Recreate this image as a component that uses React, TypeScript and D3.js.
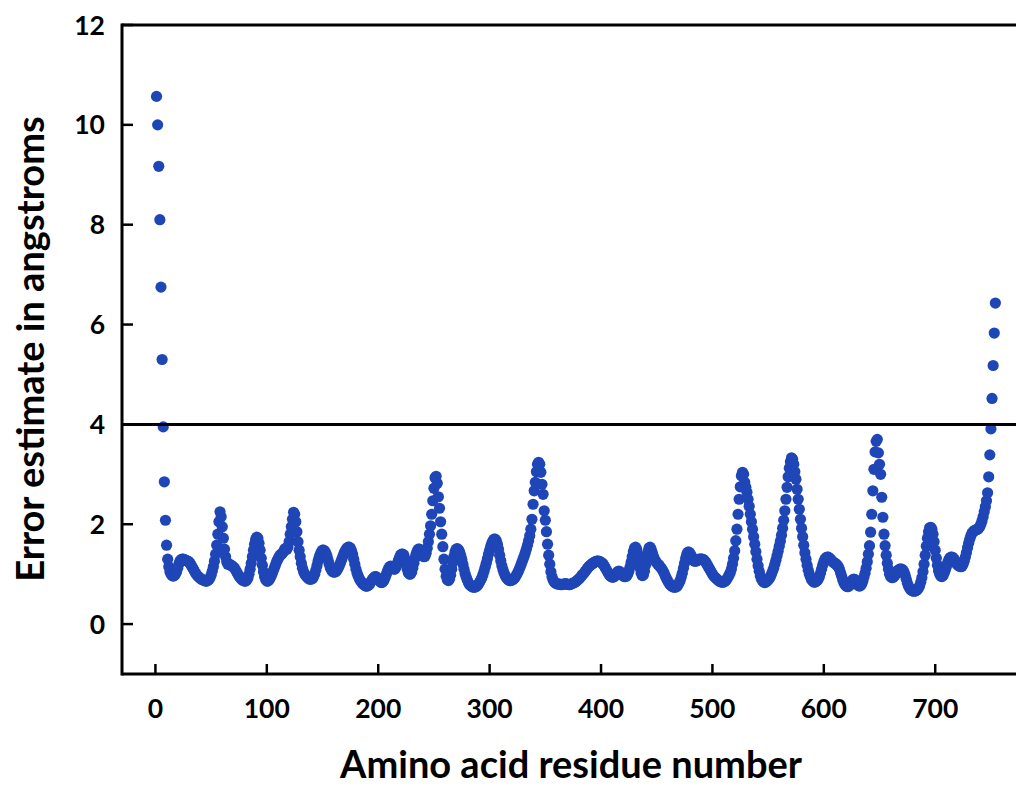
import React from "react";
import * as d3 from "d3";

// Error estimate (angstroms) per amino acid residue, starting at residue 1
const firstResidue = 1;
const errorValues: number[] = [
  10.57, 10.0, 9.17, 8.1, 6.75, 5.3, 3.95, 2.85, 2.08, 1.58,
  1.3, 1.15, 1.05, 1.0, 0.97, 0.96, 0.97, 1.0, 1.05, 1.12,
  1.2, 1.26, 1.29, 1.3, 1.3, 1.29, 1.28, 1.27, 1.26, 1.25,
  1.22, 1.18, 1.14, 1.1, 1.06, 1.02, 0.99, 0.96, 0.94, 0.92,
  0.9, 0.89, 0.88, 0.87, 0.86, 0.86, 0.87, 0.89, 0.93, 0.98,
  1.06, 1.15, 1.26, 1.4, 1.58, 1.8, 2.05, 2.25, 2.15, 1.95,
  1.72, 1.5, 1.35, 1.25, 1.2, 1.2, 1.19, 1.18, 1.16, 1.14,
  1.12, 1.08, 1.04, 1.0, 0.96, 0.93, 0.9, 0.88, 0.87, 0.86,
  0.86, 0.88, 0.92, 1.0, 1.1, 1.22, 1.35, 1.48, 1.6, 1.7,
  1.74, 1.72, 1.62, 1.48, 1.32, 1.18, 1.05, 0.95, 0.89, 0.86,
  0.86, 0.88, 0.92, 0.97, 1.02, 1.08, 1.14, 1.2, 1.26, 1.3,
  1.35, 1.38, 1.4, 1.42, 1.45, 1.5, 1.52, 1.5, 1.55, 1.65,
  1.8, 1.95, 2.1, 2.24, 2.2, 2.05, 1.85, 1.65, 1.48, 1.35,
  1.22, 1.12, 1.05, 1.0, 0.97, 0.94, 0.92, 0.9, 0.9, 0.9,
  0.91, 0.95, 1.0, 1.08, 1.17, 1.26, 1.34, 1.4, 1.45, 1.48,
  1.48, 1.46, 1.42, 1.36, 1.28, 1.2, 1.13, 1.08, 1.05, 1.04,
  1.04, 1.05, 1.08, 1.12, 1.17, 1.22, 1.28, 1.34, 1.4, 1.45,
  1.49, 1.52, 1.54, 1.54, 1.52, 1.47, 1.4, 1.3, 1.2, 1.1,
  1.02, 0.96, 0.91, 0.87, 0.84, 0.81, 0.79, 0.77, 0.76, 0.76,
  0.77, 0.79, 0.83, 0.87, 0.9, 0.93, 0.95, 0.95, 0.93, 0.9,
  0.87, 0.84, 0.83, 0.84, 0.87, 0.92, 0.98, 1.04, 1.1, 1.14,
  1.16, 1.15, 1.12, 1.1, 1.1, 1.14, 1.2, 1.27, 1.33, 1.38,
  1.4, 1.4, 1.38, 1.3, 1.2, 1.1, 1.03, 1.0, 1.0, 1.04,
  1.12, 1.22, 1.32, 1.4, 1.46, 1.5, 1.5, 1.48, 1.42, 1.37,
  1.35, 1.36, 1.42, 1.52, 1.65, 1.8, 1.97, 2.2, 2.47, 2.72,
  2.93, 2.96, 2.82, 2.55, 2.32, 2.05, 1.8, 1.55, 1.3, 1.1,
  0.96, 0.89, 0.87, 0.9, 0.98, 1.1, 1.24, 1.36, 1.45, 1.5,
  1.51, 1.49, 1.45, 1.38, 1.3, 1.2, 1.1, 1.01, 0.94, 0.88,
  0.83, 0.79, 0.77, 0.75, 0.74, 0.74, 0.74, 0.75, 0.77, 0.8,
  0.84, 0.88, 0.93, 0.99, 1.06, 1.14, 1.22, 1.31, 1.4, 1.48,
  1.56, 1.62, 1.67, 1.7, 1.7, 1.67, 1.6, 1.5, 1.38, 1.27,
  1.17, 1.09, 1.02, 0.97, 0.93, 0.9, 0.88, 0.87, 0.87, 0.88,
  0.89, 0.91, 0.94, 0.98, 1.02, 1.07, 1.12, 1.18, 1.24, 1.3,
  1.36, 1.43, 1.5, 1.58, 1.67, 1.77, 1.9, 2.1, 2.4, 2.67,
  2.84, 3.05, 3.2, 3.24, 3.2, 3.04, 2.8, 2.6, 2.27, 2.08,
  1.85, 1.6, 1.38, 1.2, 1.05, 0.95, 0.88, 0.84, 0.82, 0.81,
  0.8, 0.8, 0.8, 0.79, 0.79, 0.8, 0.8, 0.81, 0.8, 0.8,
  0.79, 0.79, 0.8, 0.81, 0.82, 0.83, 0.84, 0.86, 0.88, 0.9,
  0.92, 0.95, 0.98, 1.0, 1.03, 1.06, 1.09, 1.12, 1.15, 1.17,
  1.19, 1.21, 1.22, 1.24, 1.25, 1.26, 1.26, 1.26, 1.25, 1.24,
  1.22, 1.2, 1.16, 1.12, 1.08, 1.04, 1.0, 0.97, 0.95, 0.94,
  0.94, 0.95, 0.98, 1.02, 1.05, 1.06, 1.05, 1.02, 0.99, 0.96,
  0.95, 0.95, 0.96, 1.0, 1.06, 1.14, 1.24, 1.35, 1.45, 1.52,
  1.54, 1.5, 1.4, 1.26, 1.12, 1.02, 0.97, 0.98, 1.06, 1.18,
  1.32, 1.44, 1.52, 1.54, 1.5, 1.43, 1.36, 1.3, 1.26, 1.23,
  1.2, 1.18, 1.15, 1.12, 1.09, 1.05, 1.0, 0.95, 0.9, 0.86,
  0.82, 0.79, 0.77, 0.75, 0.74, 0.74, 0.74, 0.75, 0.78, 0.82,
  0.87, 0.94, 1.02, 1.12, 1.22, 1.32, 1.4, 1.44, 1.44, 1.41,
  1.37, 1.32, 1.28, 1.26, 1.26, 1.27, 1.28, 1.3, 1.3, 1.3,
  1.3, 1.29, 1.27, 1.24, 1.2, 1.16, 1.12, 1.08, 1.04, 1.0,
  0.97, 0.94, 0.92, 0.9, 0.88, 0.86, 0.85, 0.84, 0.84, 0.84,
  0.85, 0.87, 0.9, 0.94, 0.98, 1.03, 1.1, 1.2, 1.32, 1.47,
  1.67, 1.9, 2.2, 2.5, 2.75, 2.97, 3.04, 3.0, 2.84, 2.74,
  2.64, 2.5, 2.36, 2.2, 2.05, 1.9, 1.75, 1.6, 1.45, 1.3,
  1.17, 1.06, 0.97, 0.9, 0.86, 0.84, 0.83, 0.84, 0.86, 0.88,
  0.91, 0.95, 1.0, 1.06, 1.12, 1.2, 1.28, 1.37, 1.46, 1.56,
  1.66, 1.78, 1.92, 2.08, 2.27, 2.5, 2.74, 2.95, 3.12, 3.25,
  3.33, 3.3, 3.2, 3.05, 2.9, 2.7, 2.5, 2.3, 2.1, 1.92,
  1.75, 1.58, 1.43, 1.3, 1.18, 1.08, 1.0, 0.94, 0.89, 0.86,
  0.84, 0.84, 0.85, 0.87, 0.9, 0.95, 1.02, 1.1, 1.18, 1.25,
  1.3, 1.33, 1.34, 1.34, 1.32, 1.3, 1.27, 1.25, 1.23, 1.22,
  1.2, 1.18, 1.15, 1.1, 1.03, 0.96, 0.89, 0.83, 0.79, 0.76,
  0.75, 0.75, 0.77, 0.81, 0.86, 0.89, 0.9, 0.89, 0.85, 0.8,
  0.77, 0.76, 0.77, 0.8, 0.86, 0.94, 1.02, 1.12, 1.25, 1.4,
  1.57, 1.84, 2.2, 2.67, 3.1, 3.45, 3.66, 3.7, 3.43, 3.2,
  3.0, 2.54, 2.14, 1.8, 1.57, 1.38, 1.22, 1.1, 1.0, 0.95,
  0.93, 0.93, 0.95, 0.98, 1.02, 1.06, 1.08, 1.1, 1.1, 1.1,
  1.08, 1.04, 0.98, 0.9, 0.82, 0.76, 0.72, 0.69, 0.67, 0.66,
  0.66, 0.66, 0.67, 0.69, 0.72, 0.77, 0.84, 0.93, 1.05, 1.2,
  1.38, 1.56, 1.72, 1.85, 1.93, 1.94, 1.9, 1.8, 1.65, 1.48,
  1.32, 1.18, 1.07, 1.0, 0.96, 0.95, 0.97, 1.02, 1.08, 1.15,
  1.22, 1.28, 1.32, 1.34, 1.34, 1.33, 1.3, 1.26, 1.22, 1.19,
  1.17, 1.16, 1.15, 1.16, 1.2, 1.26, 1.34, 1.43, 1.53, 1.62,
  1.7, 1.77, 1.82, 1.85, 1.87, 1.88, 1.89, 1.9, 1.92, 1.95,
  2.0, 2.07, 2.15, 2.25, 2.35, 2.47, 2.63, 2.95, 3.39, 3.91,
  4.52, 5.18, 5.83, 6.43,
];

const xTicks = [0, 100, 200, 300, 400, 500, 600, 700];
const yTicks = [0, 2, 4, 6, 8, 10, 12];
const thresholdValue = 4;
const xTitle = "Amino acid residue number";
const yTitle = "Error estimate in angstroms";

const W = 1016;
const H = 787;
const FONT = "Lato, 'Open Sans', sans-serif";
const DOT = "#1f46b7";

export default function App() {
  const x = d3.scaleLinear().domain([-30, 800]).range([122, 122 + 830 * 1.114]);
  const y = d3.scaleLinear().domain([-1, 12]).range([674, 25]);
  const points = errorValues.map((v, i) => ({ r: firstResidue + i, v }));
  const left = x(-30);
  const right = W + 10;
  const bottom = y(-1);
  const top = y(12);

  return (
    <svg
      width={W}
      height={H}
      style={{ position: "absolute", left: 0, top: 0, background: "#fff" }}
      fontFamily={FONT}
      fontWeight="bold"
    >
      <rect x={0} y={0} width={W} height={H} fill="#fff" />
      {/* points */}
      <g fill={DOT}>
        {points.map((p) => (
          <circle key={p.r} cx={x(p.r)} cy={y(p.v)} r={5.6} />
        ))}
      </g>
      {/* frame */}
      <line x1={left} x2={right} y1={top} y2={top} stroke="#000" strokeWidth={3} />
      <line x1={left} x2={right} y1={bottom} y2={bottom} stroke="#000" strokeWidth={3} />
      <line x1={left} x2={left} y1={top - 1.5} y2={bottom + 1.5} stroke="#000" strokeWidth={3} />
      {/* threshold line */}
      <line
        x1={left}
        x2={right}
        y1={y(thresholdValue)}
        y2={y(thresholdValue)}
        stroke="#000"
        strokeWidth={3}
      />
      {/* y ticks */}
      {yTicks.map((t) => (
        <g key={"y" + t}>
          <line x1={left} x2={left + 11} y1={y(t)} y2={y(t)} stroke="#000" strokeWidth={2.5} />
          <text
            x={105}
            y={y(t)}
            dy="0.36em"
            textAnchor="end"
            fontSize={26.5}
            fill="#000"
          >
            {t}
          </text>
        </g>
      ))}
      {/* x ticks */}
      {xTicks.map((t) => (
        <g key={"x" + t}>
          <line x1={x(t)} x2={x(t)} y1={bottom} y2={bottom - 10} stroke="#000" strokeWidth={2.5} />
          <text x={x(t)} y={718} textAnchor="middle" fontSize={26.5} fill="#000">
            {t}
          </text>
        </g>
      ))}
      {/* titles */}
      <text x={571} y={778} textAnchor="middle" fontSize={38} fill="#000">
        {xTitle}
      </text>
      <text
        transform={`translate(44, 349) rotate(-90)`}
        textAnchor="middle"
        fontSize={38}
        fill="#000"
      >
        {yTitle}
      </text>
    </svg>
  );
}
